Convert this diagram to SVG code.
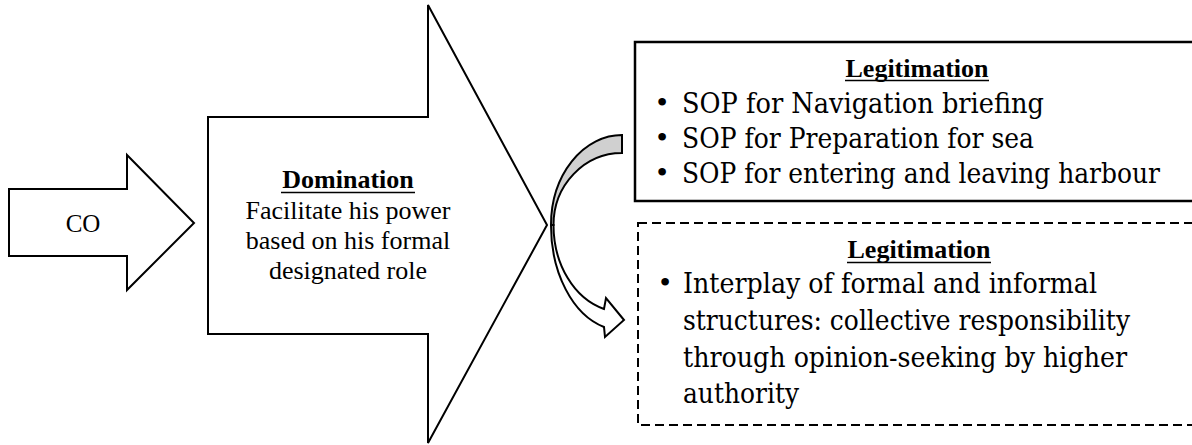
<svg xmlns="http://www.w3.org/2000/svg" width="1192" height="445" viewBox="0 0 1192 445">
<style>
.shape{fill:#fff;stroke:#000;stroke-width:2;stroke-linejoin:miter}
.t{font-family:"Liberation Serif","Times New Roman",serif;fill:#000}
.h{font-size:26px;font-weight:bold;text-anchor:middle}
.b26{font-size:26px;text-anchor:middle}
.bul{font-family:"Liberation Serif",serif;font-size:32px;text-anchor:middle}
.b32{font-family:"DejaVu Serif","Liberation Serif",serif;font-size:28px;fill:#000}
.ul{stroke:#000;stroke-width:1.6}
</style>
<rect width="1192" height="445" fill="#fff"/>
<g id="co">
<polygon class="shape" points="9,189 127,189 127,155 194,223 127,290 127,256 9,256"/>
<text class="t b26" x="83" y="232" style="font-size:25px">CO</text>
</g>
<g id="domination">
<polygon class="shape" points="208,117 428,117 428,5 547,225 428,443 428,334 208,334"/>
<text class="t h" x="348" y="188">Domination</text>
<line class="ul" x1="281" y1="192.5" x2="415" y2="192.5"/>
<text class="t b26" x="348" y="219">Facilitate his power</text>
<text class="t b26" x="348" y="249">based on his formal</text>
<text class="t b26" x="348" y="279">designated role</text>
</g>
<g id="legitimation-formal">
<rect x="635" y="42" width="570" height="159" fill="#fff" stroke="#000" stroke-width="2.5"/>
<text class="t h" x="917" y="77">Legitimation</text>
<line class="ul" x1="845" y1="80.5" x2="989" y2="80.5"/>
<text class="bul" x="662" y="113">•</text>
<text class="b32" x="682" y="113" textLength="362" lengthAdjust="spacingAndGlyphs">SOP for Navigation briefing</text>
<text class="bul" x="662" y="148">•</text>
<text class="b32" x="682" y="148" textLength="352" lengthAdjust="spacingAndGlyphs">SOP for Preparation for sea</text>
<text class="bul" x="662" y="183">•</text>
<text class="b32" x="682" y="183" textLength="478" lengthAdjust="spacingAndGlyphs">SOP for entering and leaving harbour</text>
</g>
<g id="legitimation-informal">
<rect x="638" y="223" width="570" height="202" fill="#fff" stroke="#000" stroke-width="2" stroke-dasharray="9 5"/>
<text class="t h" x="919" y="258">Legitimation</text>
<line class="ul" x1="847" y1="262.5" x2="991" y2="262.5"/>
<text class="bul" x="665" y="293">•</text>
<text class="b32" x="683" y="293" textLength="414" lengthAdjust="spacingAndGlyphs">Interplay of formal and informal</text>
<text class="b32" x="683" y="330" textLength="447" lengthAdjust="spacingAndGlyphs">structures: collective responsibility</text>
<text class="b32" x="683" y="367" textLength="444" lengthAdjust="spacingAndGlyphs">through opinion-seeking by higher</text>
<text class="b32" x="683" y="403" textLength="116" lengthAdjust="spacingAndGlyphs">authority</text>
</g>
<g id="connectors">
<path d="M622,135 A71,90 0 0 0 551,225 L553.5,225 A68.5,72 0 0 1 622,153 Z" fill="#d0d0d0" stroke="#000" stroke-width="2"/>
<path d="M551,225 A71,105 0 0 0 604,327 L605,337 L624,320 L606,298 L604,309 A68.5,87 0 0 1 553.5,225 Z" fill="#fff" stroke="#000" stroke-width="2" stroke-linejoin="miter"/>
</g>
</svg>
